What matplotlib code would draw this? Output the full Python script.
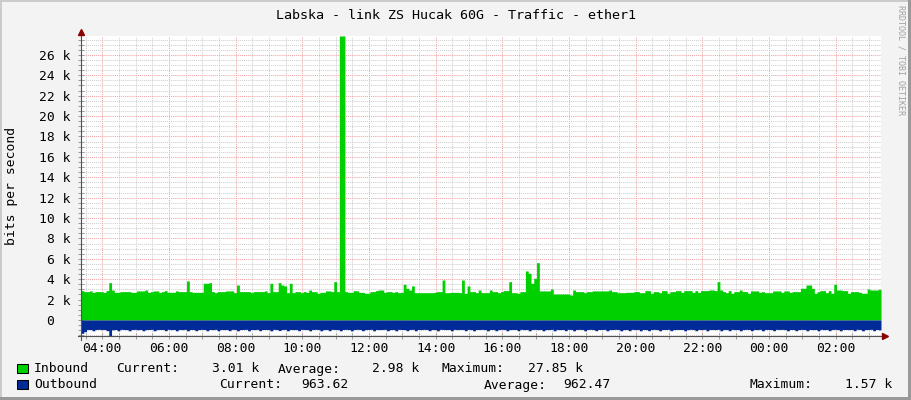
import numpy as np
import matplotlib
matplotlib.use('Agg')
import matplotlib.pyplot as plt
from matplotlib.patches import Rectangle
from matplotlib.ticker import MultipleLocator

plt.rcParams['font.family'] = ['DejaVu Sans Mono']

title = 'Labska - link ZS Hucak 60G - Traffic - ether1'
y_label = 'bits per second'
watermark = 'RRDTOOL / TOBI OETIKER'

# first sample at 03:21:40, one sample every 5 minutes (hours since midnight)
start_hour = 3 + 21 / 60 + 40 / 3600
step_minutes = 5

# inbound bits/s, one row per hour
inbound = [
    2880, 2780, 2780, 2850, 2710, 2780, 2780, 2780, 2710, 2880, 3660, 2940,
    2710, 2710, 2780, 2780, 2780, 2780, 2710, 2710, 2850, 2850, 2850, 2940,
    2710, 2780, 2850, 2850, 2710, 2780, 2880, 2710, 2710, 2710, 2850, 2780,
    2780, 2780, 3830, 2780, 2710, 2710, 2710, 2710, 3600, 3600, 3660, 2780,
    2680, 2780, 2780, 2780, 2850, 2850, 2850, 2680, 3430, 2780, 2780, 2780,
    2780, 2680, 2780, 2780, 2780, 2780, 2850, 2680, 3600, 2780, 2780, 3660,
    3430, 3340, 2680, 3600, 2680, 2780, 2780, 2680, 2780, 2710, 2940, 2780,
    2780, 2620, 2710, 2710, 2850, 2850, 2780, 3760, 2780, 27850, 27850, 2780,
    2710, 2710, 2880, 2850, 2710, 2710, 2620, 2620, 2780, 2780, 2880, 2940,
    2940, 2710, 2780, 2780, 2710, 2780, 2680, 2710, 3500, 3110, 2940, 3340,
    2680, 2680, 2680, 2680, 2680, 2680, 2680, 2710, 2780, 2780, 3920, 2680,
    2680, 2710, 2710, 2710, 2680, 3920, 2620, 3340, 2780, 2780, 2680, 2940,
    2680, 2680, 2680, 2940, 2780, 2780, 2680, 2780, 2880, 2880, 3760, 2680,
    2680, 2620, 2780, 2780, 4810, 4580, 3600, 4090, 5620, 2850, 2850, 2850,
    2850, 3040, 2550, 2550, 2550, 2550, 2550, 2550, 2450, 2940, 2780, 2780,
    2780, 2680, 2780, 2780, 2850, 2850, 2850, 2850, 2850, 2850, 2940, 2780,
    2780, 2680, 2680, 2680, 2710, 2710, 2710, 2780, 2780, 2680, 2680, 2880,
    2880, 2620, 2780, 2780, 2680, 2880, 2880, 2620, 2780, 2780, 2880, 2880,
    2710, 2880, 2880, 2880, 2710, 2880, 2710, 2880, 2880, 2880, 2940, 2940,
    2880, 3760, 2940, 2780, 2680, 2880, 2620, 2780, 2780, 2940, 2780, 2780,
    2620, 2850, 2850, 2850, 2710, 2780, 2680, 2680, 2680, 2850, 2850, 2850,
    2710, 2850, 2850, 2710, 2780, 2780, 2780, 3110, 3110, 3430, 3430, 3110,
    2620, 2780, 2880, 2880, 2680, 2880, 2620, 3500, 2940, 2940, 2880, 2880,
    2620, 2780, 2780, 2780, 2710, 2620, 2620, 3040, 2940, 2940, 2940, 3010,
]

# outbound bits/s (drawn below zero)
outbound = [
    1310, 1150, 930, 940, 1060, 930, 920, 940, 930, 1050, 1570, 960,
    930, 1060, 920, 930, 940, 1060, 930, 920, 950, 930, 1060, 940,
    930, 920, 1060, 940, 930, 930, 1050, 920, 940, 930, 1060, 930,
    940, 920, 1060, 930, 930, 1050, 940, 920, 930, 1060, 930, 940,
    920, 1060, 930, 940, 930, 1050, 920, 930, 1060, 940, 930, 920,
    1060, 930, 940, 920, 1050, 930, 930, 940, 1060, 920, 930, 1040,
    930, 920, 1060, 930, 940, 930, 1050, 920, 930, 940, 1060, 930,
    920, 930, 1060, 940, 930, 1050, 920, 930, 940, 1060, 930, 920,
    940, 1060, 930, 920, 930, 1050, 940, 930, 920, 1060, 930, 940,
    930, 920, 1050, 940, 930, 1060, 920, 930, 940, 1050, 930, 920,
    1060, 930, 940, 920, 930, 1050, 930, 940, 1060, 920, 930, 940,
    930, 1060, 920, 940, 930, 930, 1050, 920, 940, 1060, 930, 930,
    920, 940, 1060, 930, 930, 1050, 940, 920, 930, 1060, 940, 930,
    930, 1050, 920, 940, 930, 1060, 930, 920, 940, 930, 1060, 940,
    940, 920, 1060, 930, 940, 930, 1050, 920, 930, 1060, 930, 920,
    930, 1060, 930, 920, 940, 1050, 930, 930, 920, 1060, 940, 930,
    920, 930, 1060, 940, 930, 1050, 920, 940, 930, 1060, 930, 940,
    1050, 930, 920, 940, 1060, 930, 930, 920, 1050, 940, 930, 930,
    930, 1060, 940, 920, 930, 1050, 930, 940, 920, 1060, 930, 930,
    940, 920, 1060, 930, 930, 1050, 920, 940, 930, 1060, 940, 920,
    930, 1050, 930, 940, 920, 1060, 930, 930, 940, 1050, 920, 930,
    920, 940, 1060, 930, 930, 1050, 940, 920, 930, 1060, 930, 940,
    930, 1060, 920, 940, 930, 1050, 930, 920, 940, 1060, 930, 930,
    940, 930, 1050, 920, 930, 1060, 940, 930, 920, 1050, 930, 964,
]

hour_ticks = [4, 6, 8, 10, 12, 14, 16, 18, 20, 22, 24, 26]
hour_labels = ['04:00', '06:00', '08:00', '10:00', '12:00', '14:00',
               '16:00', '18:00', '20:00', '22:00', '00:00', '02:00']
value_ticks = [0, 2000, 4000, 6000, 8000, 10000, 12000, 14000,
               16000, 18000, 20000, 22000, 24000, 26000]
value_labels = ['0  ', '2 k', '4 k', '6 k', '8 k', '10 k', '12 k', '14 k',
                '16 k', '18 k', '20 k', '22 k', '24 k', '26 k']

series_names = ['Inbound', 'Outbound']
series_colors = ['#00CF00', '#002A97']
inbound_stats = ['3.01 k', '2.98 k', '27.85 k']
outbound_stats = ['963.62', '962.47', '1.57 k']

W, H = 911, 400
fig = plt.figure(figsize=(W / 100, H / 100), dpi=100, facecolor='#F3F3F3')
ax = fig.add_axes([81 / W, 64 / H, 800 / W, 300 / H])
ax.set_facecolor('white')

edges = start_hour + np.arange(len(inbound) + 1) * step_minutes / 60
ax.fill_between(edges, 0, np.append(inbound, inbound[-1]), step='post',
                color=series_colors[0], lw=0, zorder=3)
ax.fill_between(edges, 0, -np.append(outbound, outbound[-1]), step='post',
                color=series_colors[1], lw=0, zorder=3)
ax.set_xlim(edges[0], edges[-1])
ax.set_ylim(-max(outbound), max(inbound))

ax.set_xticks(hour_ticks)
ax.set_xticklabels(hour_labels)
ax.set_yticks(value_ticks)
ax.set_yticklabels(value_labels)
ax.xaxis.set_minor_locator(MultipleLocator(0.5))
ax.yaxis.set_minor_locator(MultipleLocator(500))

dots = (0, (1, 1))
ax.grid(which='major', color='#F3A3A3', ls=dots, lw=0.75, zorder=1)
ax.grid(which='minor', color='#CFCFCF', ls=dots, lw=0.75, zorder=1)
ax.set_axisbelow(True)

for s in ax.spines.values():
    s.set_visible(False)
ax.tick_params(which='both', direction='inout', length=4, width=0.75,
               color='#A0A0A0', labelsize=9.4, labelcolor='black')
ax.tick_params(axis='y', pad=5.6)
ax.tick_params(axis='x', pad=2.4)

# axes with arrow heads, like rrdtool
ax.plot([0, 0], [-0.012, 1.0], transform=ax.transAxes, color='#505050',
        lw=0.8, clip_on=False, zorder=5)
ax.plot([-0.004, 1.004], [0, 0], transform=ax.transAxes, color='#505050',
        lw=0.8, clip_on=False, zorder=5)
ax.plot([0], [1.013], transform=ax.transAxes, marker='^', ms=4.5,
        color='#8B0000', clip_on=False, zorder=6)
ax.plot([1.005], [0], transform=ax.transAxes, marker='>', ms=4.5,
        color='#8B0000', clip_on=False, zorder=6)

fig.text(0.5, 1 - 19 / H, title, ha='center', va='baseline', fontsize=9.6)
fig.text(12 / W, 1 - 186 / H, y_label, rotation=90, ha='center',
         va='center', fontsize=9.4)
fig.text(901.5 / W, 1 - 5 / H, watermark, rotation=-90, ha='center',
         va='top', fontsize=6, color='#A0A0A0')

# legend rows
rows = [
    (372.5, series_names[0], series_colors[0], inbound_stats,
     [(116, 259), (278, 419), (441, 583)]),
    (388.5, series_names[1], series_colors[1], outbound_stats,
     [(219, 348), (484, 611), (750, 892)]),
]
for base, name, col, stats, spots in rows:
    yb = 1 - base / H
    fig.add_artist(Rectangle((17 / W, 1 - (base + 0.5) / H), 11 / W, 9.5 / H,
                             transform=fig.transFigure, facecolor=col,
                             edgecolor='black', lw=0.75))
    fig.text(34 / W, yb, name, va='baseline', fontsize=9.4)
    for (lx, vx), key, val in zip(spots, ['Current:', 'Average:', 'Maximum:'], stats):
        fig.text(lx / W, yb, key, va='baseline', fontsize=9.4)
        fig.text(vx / W, yb, val, va='baseline', ha='right', fontsize=9.4)

# 3d frame
fig.add_artist(Rectangle((0, 0), 2 / W, 1, transform=fig.transFigure,
                         color='#CBCBCB', lw=0))
fig.add_artist(Rectangle((0, 1 - 2 / H), 1, 2 / H, transform=fig.transFigure,
                         color='#CBCBCB', lw=0))
fig.add_artist(Rectangle((1 - 3 / W, 0), 3 / W, 1, transform=fig.transFigure,
                         color='#999999', lw=0))
fig.add_artist(Rectangle((0, 0), 1, 3 / H, transform=fig.transFigure,
                         color='#999999', lw=0))

fig.savefig('out.png', dpi=100, facecolor=fig.get_facecolor())
